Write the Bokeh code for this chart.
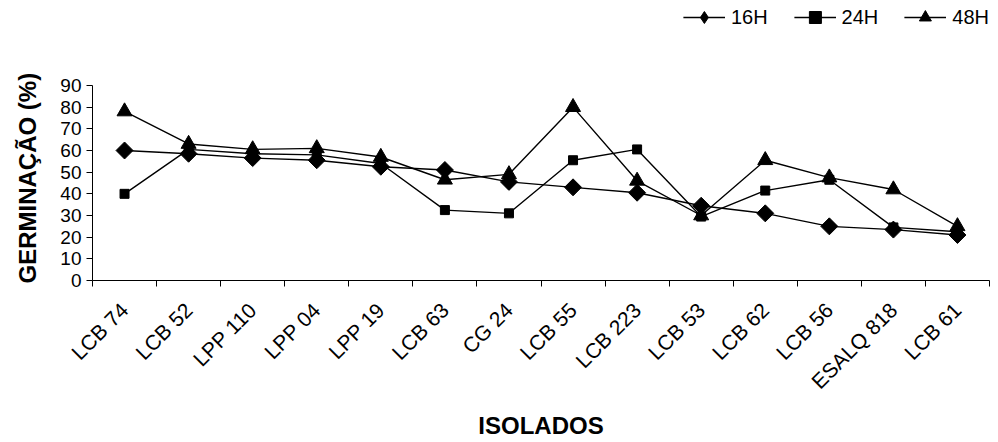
import math
from bokeh.plotting import figure
from bokeh.models import (ColumnDataSource, FixedTicker, Legend, LegendItem,
                          Range1d)
from bokeh.embed import file_html
from bokeh.resources import INLINE

isolados = ["LCB 74", "LCB 52", "LPP 110", "LPP 04", "LPP 19", "LCB 63", "CG 24",
            "LCB 55", "LCB 223", "LCB 53", "LCB 62", "LCB 56", "ESALQ 818", "LCB 61"]
h16 = [60, 58.5, 56.5, 55.5, 52.5, 51, 45.5, 43, 40.5, 34.5, 31, 25, 23.5, 21]
h24 = [40, 60.5, 58.5, 58, 54, 32.5, 31, 55.5, 60.5, 29.5, 41.5, 46.5, 24.5, 22.5]
h48 = [78, 63, 60.5, 61, 57, 46.5, 49, 80, 46, 30, 55.5, 47.5, 42, 25]
y_ticks = [0, 10, 20, 30, 40, 50, 60, 70, 80, 90]

FONT = "Liberation Sans"
Y_MAX = 90
Y_TOP = 128.3  # extra room above the axis for the legend

xs = [i + 0.5 for i in range(len(isolados))]
src = ColumnDataSource(dict(x=xs, h16=h16, h24=h24, h48=h48))

p = figure(width=998, height=442, output_backend="svg", toolbar_location=None,
           x_range=Range1d(0, len(isolados)), y_range=Range1d(0, Y_TOP),
           min_border_left=92, min_border_right=9, min_border_top=2,
           min_border_bottom=162)
p.outline_line_color = None
p.grid.grid_line_color = None
p.background_fill_color = "white"
p.border_fill_color = "white"

# x axis: labels at category centres, ticks at boundaries
xa = p.xaxis[0]
xa.ticker = FixedTicker(ticks=xs, minor_ticks=list(range(len(isolados) + 1)))
xa.major_label_overrides = {x: lab for x, lab in zip(xs, isolados)}
xa.major_tick_line_color = None
xa.minor_tick_out = 6
xa.minor_tick_in = 0
xa.minor_tick_line_color = "black"
xa.major_label_orientation = math.pi / 4
xa.major_label_text_font = FONT
xa.major_label_text_font_size = "21px"
xa.major_label_text_color = "black"
xa.major_label_standoff = 20
xa.axis_line_color = "black"
xa.axis_label = "ISOLADOS"
xa.axis_label_text_font = FONT
xa.axis_label_text_font_style = "bold"
xa.axis_label_text_font_size = "24px"
xa.axis_label_text_color = "black"
xa.axis_label_standoff = 8

ya = p.yaxis[0]
ya.ticker = FixedTicker(ticks=y_ticks, minor_ticks=[])
ya.bounds = (0, Y_MAX)
ya.major_tick_out = 6
ya.major_tick_in = 0
ya.major_label_text_font = FONT
ya.major_label_text_font_size = "19px"
ya.major_label_text_color = "black"
ya.major_label_standoff = 5
ya.axis_line_color = "black"
# trailing no-break spaces centre the visible title on the 0-90 part of the axis
ya.axis_label = "GERMINAÇÃO (%)" + "\u00a0" * 11
ya.axis_label_text_font = FONT
ya.axis_label_text_font_style = "bold"
ya.axis_label_text_font_size = "24px"
ya.axis_label_text_color = "black"
ya.axis_label_standoff = 16

lw = 1.4
l16 = p.line("x", "h16", source=src, line_color="black", line_width=lw)
m16 = p.scatter("x", "h16", source=src, marker="square", angle=math.pi / 4,
                size=12, color="black")
m16_leg = p.scatter("x", "h16", source=src, marker="diamond", size=12,
                    color="black", visible=False)
l24 = p.line("x", "h24", source=src, line_color="black", line_width=lw)
m24 = p.scatter("x", "h24", source=src, marker="square", size=9, color="black")
l48 = p.line("x", "h48", source=src, line_color="black", line_width=lw)
m48 = p.scatter("x", "h48", source=src, marker="triangle", size=15, color="black")

legend = Legend(items=[LegendItem(label="16H", renderers=[l16, m16_leg]),
                       LegendItem(label="24H", renderers=[l24, m24]),
                       LegendItem(label="48H", renderers=[l48, m48])],
                orientation="horizontal", location="top_right",
                border_line_color=None, background_fill_alpha=0,
                inactive_fill_alpha=0,
                label_text_font=FONT, label_text_font_size="20px",
                label_text_color="black", glyph_width=42, glyph_height=30,
                label_standoff=6, spacing=26, padding=2, margin=0)
p.add_layout(legend, "center")

open("out.html", "w").write(file_html(p, INLINE))
